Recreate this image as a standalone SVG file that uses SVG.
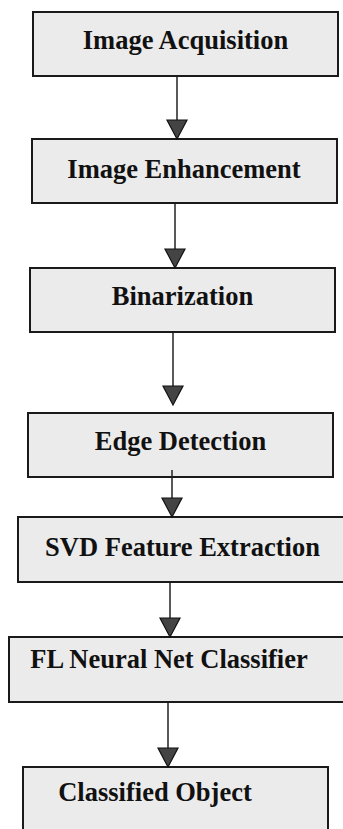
<svg xmlns="http://www.w3.org/2000/svg" width="343" height="829" viewBox="0 0 343 829">
<defs>
<style>
.box{fill:#ebebeb;stroke:#1a1a1a;stroke-width:2}
.lbl{font-family:"Liberation Serif","Times New Roman",serif;font-weight:bold;font-size:26.5px;fill:#111;text-anchor:middle}
</style>
<path id="head" d="M-10,-19 L10,-19 L0,0 Z" fill="#444" stroke="#111" stroke-width="1.2"/>
</defs>
<rect width="343" height="829" fill="#fff"/>
<g id="n1"><rect class="box" x="33" y="12" width="305" height="64"/><text class="lbl" x="185.5" y="49">Image Acquisition</text></g>
<g id="n2"><rect class="box" x="32" y="139" width="305" height="64"/><text class="lbl" x="184" y="178">Image Enhancement</text></g>
<g id="n3"><rect class="box" x="30" y="268" width="305" height="64"/><text class="lbl" x="182.5" y="305">Binarization</text></g>
<g id="n4"><rect class="box" x="28" y="413" width="305" height="64"/><text class="lbl" x="180.5" y="450">Edge Detection</text></g>
<g id="n5"><rect class="box" x="18" y="517" width="330" height="65"/><text class="lbl" x="182.5" y="556">SVD Feature Extraction</text></g>
<g id="n6"><rect class="box" x="9" y="637" width="340" height="65"/><text class="lbl" x="169" y="668">FL Neural Net Classifier</text></g>
<g id="n7"><rect class="box" x="23" y="767" width="305" height="70"/><text class="lbl" x="155" y="801">Classified Object</text></g>
<g id="connectors" stroke="#222" stroke-width="1.5">
<line x1="177" y1="77" x2="177" y2="121"/><use href="#head" x="177" y="139"/>
<line x1="175" y1="204" x2="175" y2="250"/><use href="#head" x="175" y="268"/>
<line x1="173" y1="333" x2="173" y2="387"/><use href="#head" x="173" y="405"/>
<line x1="172" y1="470" x2="172" y2="499"/><use href="#head" x="172" y="517"/>
<line x1="170" y1="583" x2="170" y2="619"/><use href="#head" x="170" y="637"/>
<line x1="168" y1="703" x2="168" y2="749"/><use href="#head" x="168" y="767"/>
</g>
</svg>
